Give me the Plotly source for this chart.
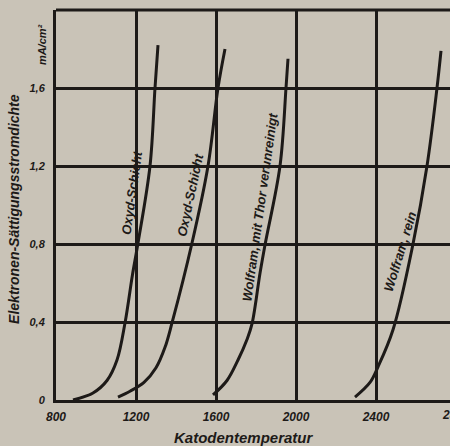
import plotly.graph_objects as go

# ---- data ----
oxyd1_T = [885, 985, 1055, 1105, 1145, 1182, 1210, 1270, 1295, 1310]
oxyd1_j = [0.0, 0.036, 0.10, 0.205, 0.395, 0.64, 0.805, 1.2, 1.6, 1.82]

oxyd2_T = [1110, 1170, 1240, 1300, 1345, 1380, 1480, 1560, 1610, 1645]
oxyd2_j = [0.015, 0.045, 0.09, 0.165, 0.27, 0.395, 0.805, 1.2, 1.6, 1.8]

thor_T = [1585, 1655, 1710, 1755, 1780, 1820, 1845, 1920, 1950, 1960]
thor_j = [0.026, 0.10, 0.205, 0.31, 0.39, 0.65, 0.795, 1.2, 1.6, 1.75]

rein_T = [2295, 2370, 2410, 2485, 2585, 2655, 2705, 2725]
rein_j = [0.015, 0.09, 0.17, 0.36, 0.8, 1.2, 1.6, 1.79]

curve_labels = ["Oxyd-Schicht", "Oxyd-Schicht", "Wolfram, mit Thor verunreinigt", "Wolfram, rein"]
label_T = [1178, 1470, 1822, 2522]
label_j = [1.06, 1.05, 0.99, 0.76]
label_angle = [-82, -78, -82, -73]

x_tick_vals = [800, 1200, 1600, 2000, 2400, 2800]
x_tick_text = ["800", "1200", "1600", "2000", "2400", "2800"]
y_tick_vals = [0, 0.4, 0.8, 1.2, 1.6]
y_tick_text = ["0", "0,4", "0,8", "1,2", "1,6"]

x_range = [800, 2770]
y_range = [0, 2.0]

INK = "#1d1a18"
PAPER = "#c9c3b7"
FONT = "Liberation Sans, Arial, sans-serif"

fig = go.Figure()
for T, j in [(oxyd1_T, oxyd1_j), (oxyd2_T, oxyd2_j), (thor_T, thor_j), (rein_T, rein_j)]:
    fig.add_trace(go.Scatter(x=T, y=j, mode="lines",
                             line=dict(color=INK, width=3, shape="spline", smoothing=1.0),
                             showlegend=False, hoverinfo="skip"))

for txt, xx, yy, ang in zip(curve_labels, label_T, label_j, label_angle):
    fig.add_annotation(x=xx, y=yy, text=txt, showarrow=False, textangle=ang,
                       xanchor="center", yanchor="middle",
                       font=dict(family=FONT, size=13, color=INK, weight="bold", style="italic"))

# tick labels beyond the visible range (cut at the edge)
for v, t in zip(x_tick_vals, x_tick_text):
    if v > x_range[1]:
        fig.add_annotation(xref="paper", yref="paper",
                           x=(v - x_range[0]) / (x_range[1] - x_range[0]), y=0,
                           yshift=-6, yanchor="top", xanchor="center", text=t, showarrow=False,
                           font=dict(family=FONT, size=12, color=INK, weight="bold", style="italic"))

# axis titles
fig.add_annotation(xref="paper", yref="paper", x=0.477, y=0, yshift=-27, yanchor="top",
                   xanchor="center", text="Katodentemperatur", showarrow=False,
                   font=dict(family=FONT, size=15, color=INK, weight="bold", style="italic"))
fig.add_annotation(xref="paper", yref="paper", x=0, xshift=-42, y=0.49, textangle=-90,
                   xanchor="center", yanchor="middle",
                   text="Elektronen-Sättigungsstromdichte", showarrow=False,
                   font=dict(family=FONT, size=14, color=INK, weight="bold", style="italic"))
fig.add_annotation(xref="paper", yref="paper", x=0, xshift=-14, y=0.91, textangle=-90,
                   xanchor="center", yanchor="middle",
                   text="mA/cm²", showarrow=False,
                   font=dict(family=FONT, size=11, color=INK, weight="bold", style="italic"))

# top frame line
fig.add_shape(type="line", xref="paper", yref="paper", x0=0, x1=1, y0=1, y1=1,
              line=dict(color=INK, width=3))

fig.update_xaxes(range=x_range, tickvals=[v for v in x_tick_vals if v <= x_range[1]],
                 ticktext=[t for v, t in zip(x_tick_vals, x_tick_text) if v <= x_range[1]],
                 showgrid=True, gridcolor=INK, gridwidth=3,
                 showline=True, linecolor=INK, linewidth=3, zeroline=False,
                 ticks="outside", ticklen=4, tickcolor="rgba(0,0,0,0)",
                 tickfont=dict(family=FONT, size=12, color=INK, weight="bold", style="italic"))
fig.update_yaxes(range=y_range, tickvals=y_tick_vals, ticktext=y_tick_text,
                 showgrid=True, gridcolor=INK, gridwidth=3,
                 showline=True, linecolor=INK, linewidth=3, zeroline=False,
                 ticks="outside", ticklen=6, tickcolor="rgba(0,0,0,0)",
                 tickfont=dict(family=FONT, size=11, color=INK, weight="bold", style="italic"))

fig.update_layout(width=450, height=446, margin=dict(l=56, r=0, t=10, b=46),
                  paper_bgcolor=PAPER, plot_bgcolor=PAPER)

fig.write_html("out.html", config={"displayModeBar": False},
               post_script="document.body.style.margin='0';document.body.style.overflow='hidden';"
                           "document.body.style.background='" + PAPER + "';")
